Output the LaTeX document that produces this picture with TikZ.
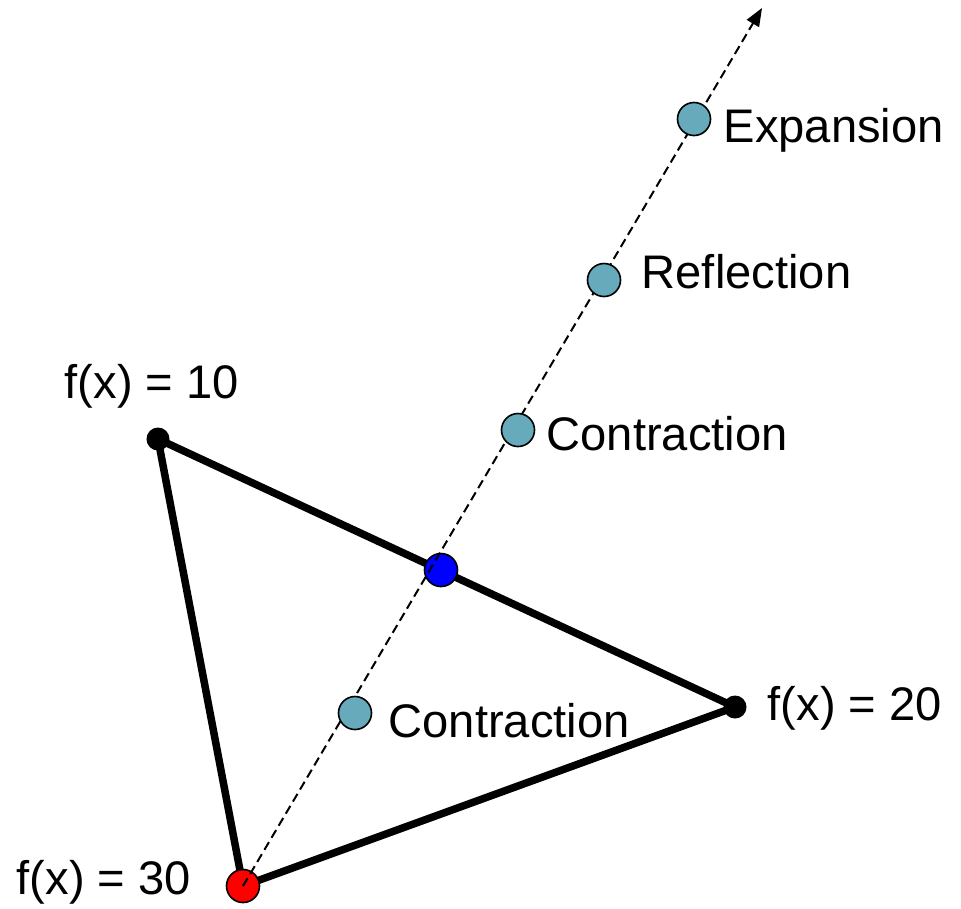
\documentclass[tikz,border=0pt]{standalone}
\usepackage{fontspec}
\setmainfont{Liberation Sans}
\usetikzlibrary{arrows.meta}
\definecolor{tealpt}{RGB}{102,170,187}
\tikzset{
  edge/.style={line width=0.075cm, line join=round},
  ray/.style={line width=0.02cm, dash pattern=on 0.09cm off 0.05cm, -{Triangle[length=0.18cm,width=0.14cm]}},
  pt/.style={circle, draw=black, line width=0.016cm, minimum size=0.33cm, inner sep=0},
  tpt/.style={pt, fill=tealpt},
  vtx/.style={circle, fill=black, minimum size=0.23cm, inner sep=0},
  lbl/.style={anchor=base west, inner sep=0, font=\fontsize{13.4}{15}\selectfont}
}
\begin{document}
\begin{tikzpicture}[x=0.01cm,y=-0.01cm]
\useasboundingbox (0,0) rectangle (961,908);
\coordinate (A) at (158,439);
\coordinate (B) at (735,707);
\coordinate (C) at (243,886);
\coordinate (M) at (441,570);
\coordinate (tip) at (762,8);
\draw[edge] (A) -- (B) -- (C) -- cycle;
\node[pt, fill=blue] (mid) at (M) {};
\node[pt, fill=red] (worst) at (C) {};
\draw[ray] (worst.center) -- (tip);
\node[tpt] (exp) at (694,119) {};
\node[tpt] (refl) at (604,280) {};
\node[tpt] (con1) at (518,430) {};
\node[tpt] (con2) at (355,713) {};
\node[vtx] (best) at (A) {};
\node[vtx] (good) at (B) {};
\node[lbl] (lexp) at (723,142) {Expansion};
\node[lbl] (lrefl) at (641,288) {Reflection};
\node[lbl] (lcon1) at (546,450) {Contraction};
\node[lbl] (lcon2) at (388,737) {Contraction};
\node[lbl] (l10) at (64,398) {f(x) = 10};
\node[lbl] (l20) at (767,720) {f(x) = 20};
\node[lbl] (l30) at (16,894) {f(x) = 30};
\end{tikzpicture}
\end{document}
